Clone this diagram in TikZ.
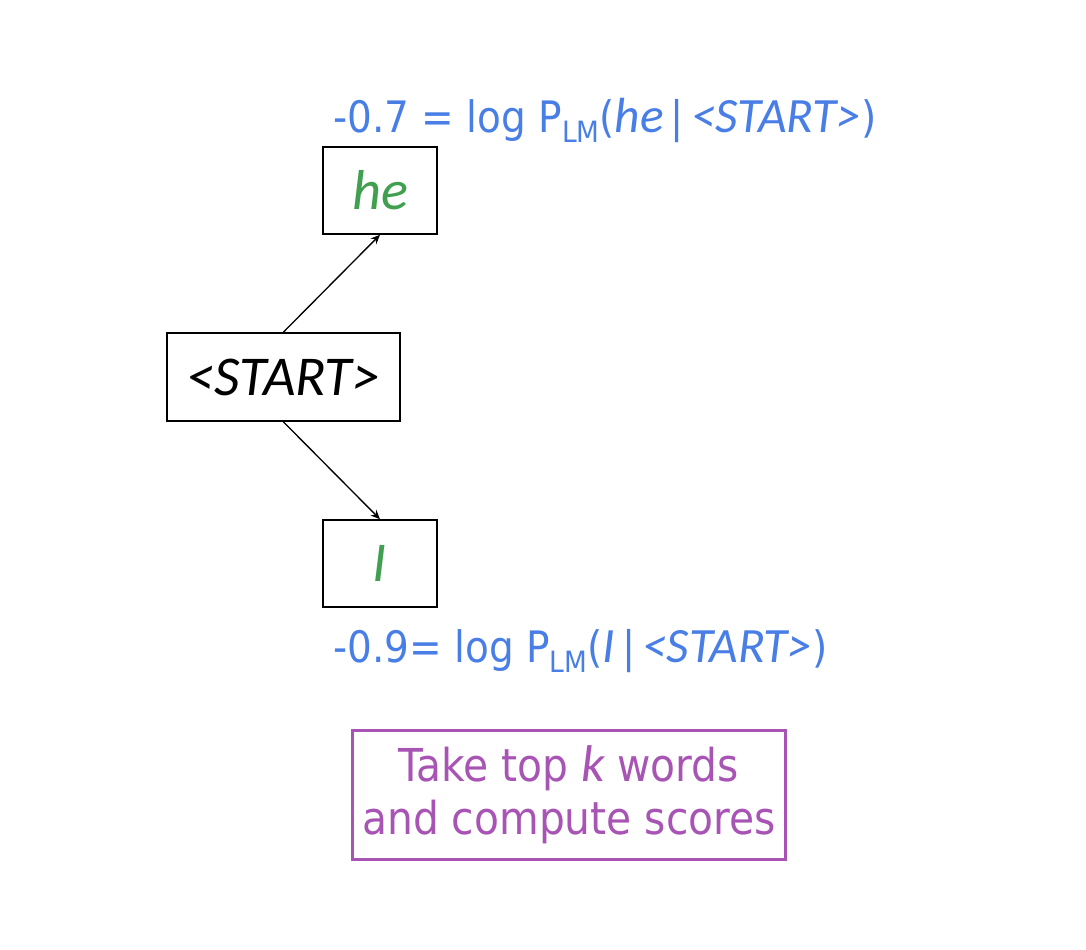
\documentclass[tikz,border=0pt]{standalone}
\usepackage{fontspec}
\setmainfont{DejaVu Sans Condensed}
\newfontfamily\slfont{Carlito}[Scale=1.14]
\usetikzlibrary{arrows.meta}
\definecolor{lmblue}{RGB}{72,126,230}
\definecolor{wordgreen}{RGB}{64,160,80}
\definecolor{notepurple}{RGB}{168,84,180}
\newcommand{\lmsub}{\raisebox{-8pt}{\fontsize{22}{22}\selectfont LM}}
\newcommand{\tok}[1]{{\slfont\itshape #1}}
\begin{document}
\begin{tikzpicture}[x=0.75pt,y=-0.75pt,
  wordbox/.style={draw=black, line width=1.4pt, minimum width=85.5pt, minimum height=65pt, inner sep=0pt, font=\fontsize{37}{37}\selectfont},
  score/.style={text=lmblue, anchor=base west, inner sep=0pt, font=\fontsize{32.5}{32.5}\selectfont},
  link/.style={-{Stealth[length=7pt,width=6pt]}, line width=1pt}]
\useasboundingbox (0,0) rectangle (1086,950);
% token boxes
\node[wordbox, minimum width=175pt, minimum height=66pt] (start) at (283.5,377) {\tok{<START>}};
\node[wordbox, text=wordgreen] (he) at (380,190.5) {\tok{he}};
\node[wordbox, text=wordgreen] (i) at (380,563.5) {\tok{I}};
\draw[link] (start.north) -- (he.south);
\draw[link] (start.south) -- (i.north);
% log-probability scores
\node[score] (sh) at (333,132) {-0.7 = log P\lmsub(\tok{he}\,|\,\tok{<START>})};
\node[score] (si) at (333,662) {-0.9= log P\lmsub(\tok{I}\,|\,\tok{<START>})};
% note
\node[draw=notepurple, line width=2.2pt, text=notepurple, minimum width=325pt, minimum height=96.5pt, align=center, font=\fontsize{34}{40}\selectfont] (note) at (569,795) {Take top \tok{k} words\\and compute scores};
\end{tikzpicture}
\end{document}
